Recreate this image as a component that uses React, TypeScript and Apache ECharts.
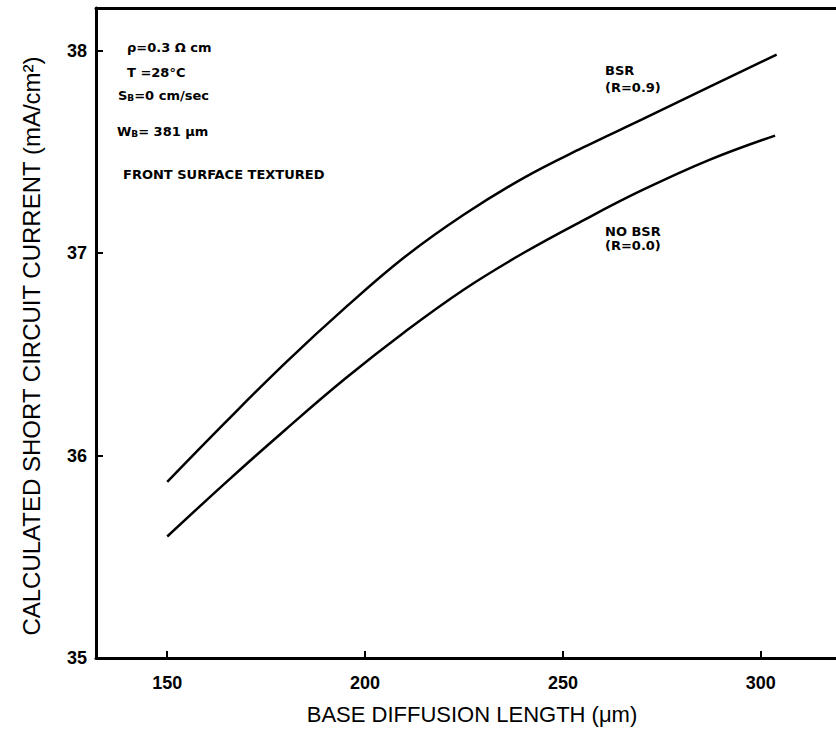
import React, { useEffect, useRef } from "react";
import * as echarts from "echarts";

const xTicks = [150, 200, 250, 300];
const yTicks = [35, 36, 37, 38];

const bsrX = [150, 165, 180, 195, 210, 225, 240, 255, 270, 287, 304];
const bsrY = [35.87, 36.17, 36.46, 36.73, 36.98, 37.19, 37.37, 37.52, 37.66, 37.82, 37.98];

const noBsrX = [150, 165, 180, 195, 210, 225, 240, 255, 270, 287, 303.6];
const noBsrY = [35.6, 35.87, 36.13, 36.38, 36.61, 36.82, 37.0, 37.16, 37.31, 37.46, 37.58];

const FONT = "'Liberation Sans', Arial, sans-serif";
const AFONT = "'DejaVu Sans', sans-serif";

export default function App() {
  const ref = useRef<HTMLDivElement>(null);
  useEffect(() => {
    if (!ref.current) return;
    const chart = echarts.init(ref.current, null, { renderer: "svg" });
    const lineStyle = { color: "#000", width: 3 };
    const annot = (x: number, y: number, text: string, rich?: any) => ({
      type: "text",
      x,
      y,
      style: {
        text,
        fill: "#000",
        font: `bold 13px ${AFONT}`,
        textVerticalAlign: "middle",
        rich,
      },
    });
    const subRich = {
      s: { fontSize: 9, fontWeight: "bold", fontFamily: AFONT, verticalAlign: "bottom", padding: [6, 0, 0, 0] },
      n: { fontSize: 13, fontWeight: "bold", fontFamily: AFONT },
    };
    chart.setOption({
      animation: false,
      backgroundColor: "#fff",
      grid: { left: 96, right: 0, top: 8, bottom: 75, containLabel: false },
      xAxis: [
        {
          type: "value",
          min: 132,
          max: 319,
          axisLine: { show: true, lineStyle },
          axisTick: { show: true, inside: true, length: 7, lineStyle: { color: "#000", width: 2 }, customValues: xTicks },
          axisLabel: {
            show: true,
            customValues: xTicks,
            margin: 16,
            color: "#000",
            fontSize: 18,
            fontWeight: "bold",
            fontFamily: FONT,
          },
          splitLine: { show: false },
        },
        {
          type: "value",
          position: "top",
          min: 132,
          max: 319,
          axisLine: { show: true, onZero: false, lineStyle },
          axisTick: { show: false },
          axisLabel: { show: false },
          splitLine: { show: false },
        },
      ],
      yAxis: {
        type: "value",
        min: 35,
        max: 38.21,
        axisLine: { show: true, lineStyle },
        axisTick: { show: true, inside: true, length: 7, lineStyle: { color: "#000", width: 2 }, customValues: yTicks },
        axisLabel: {
          show: true,
          customValues: yTicks,
          margin: 9,
          color: "#000",
          fontSize: 18,
          fontWeight: "bold",
          fontFamily: FONT,
        },
        splitLine: { show: false },
      },
      series: [
        {
          type: "line",
          name: "BSR (R=0.9)",
          data: bsrX.map((x, i) => [x, bsrY[i]]),
          smooth: 0.4,
          showSymbol: false,
          lineStyle: { color: "#000", width: 2.5 },
        },
        {
          type: "line",
          name: "NO BSR (R=0.0)",
          data: noBsrX.map((x, i) => [x, noBsrY[i]]),
          smooth: 0.4,
          showSymbol: false,
          lineStyle: { color: "#000", width: 2.5 },
        },
      ],
      graphic: [
        annot(127, 47, "ρ=0.3 Ω cm"),
        annot(127, 72, "T =28°C"),
        annot(118, 95, "{n|S}{s|B}{n|=0 cm/sec}", subRich),
        annot(117, 131, "{n|W}{s|B}{n|= 381 μm}", subRich),
        annot(123, 174, "FRONT SURFACE TEXTURED"),
        annot(605, 70, "BSR"),
        annot(605, 87, "(R=0.9)"),
        annot(605, 231, "NO BSR"),
        annot(605, 245, "(R=0.0)"),
        {
          type: "text",
          x: 31,
          y: 346,
          rotation: Math.PI / 2,
          style: {
            text: "CALCULATED SHORT CIRCUIT CURRENT (mA/cm²)",
            fill: "#000",
            font: `24px ${FONT}`,
            textAlign: "center",
            textVerticalAlign: "middle",
          },
        },
        {
          type: "text",
          x: 472,
          y: 714,
          style: {
            text: "BASE DIFFUSION LENGTH (μm)",
            fill: "#000",
            font: `22px ${FONT}`,
            textAlign: "center",
            textVerticalAlign: "middle",
          },
        },
      ],
    });
    return () => chart.dispose();
  }, []);
  return (
    <div
      ref={ref}
      style={{ position: "fixed", left: 0, top: 0, width: 836, height: 733, background: "#fff" }}
    />
  );
}
